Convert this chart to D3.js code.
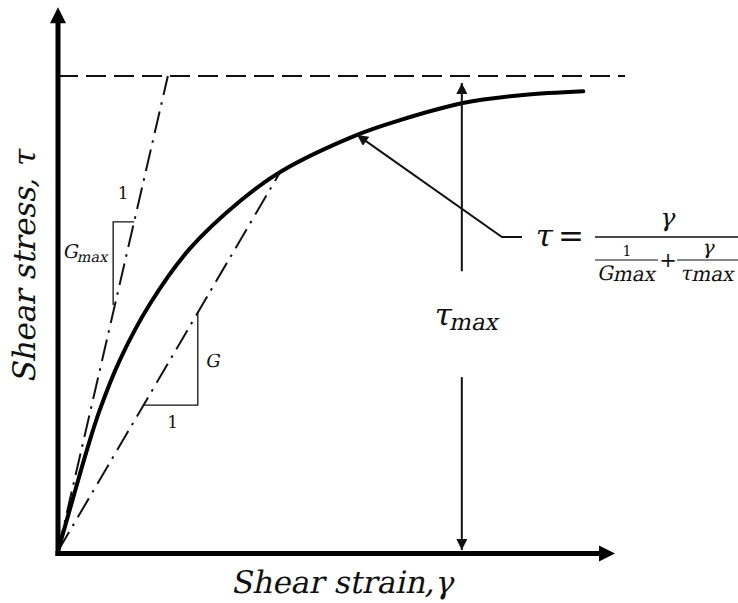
<!DOCTYPE html>
<html>
<head>
<meta charset="utf-8">
<script src="https://cdn.jsdelivr.net/npm/d3@7"></script>
<style>
  body { margin: 0; background: #fff; }
  svg { display: block; }
  text { font-family: "DejaVu Serif", "Liberation Serif", serif; fill: #111; }
</style>
</head>
<body>
<script>
// Backbone curve: shear strain (arbitrary units) vs shear stress normalised by τmax
const strain = [0, 0.26, 0.52, 0.75, 1.11, 1.65, 2.37, 3.27, 3.99, 5.37, 6.14, 7.27, 8.35, 9.43];
const stress = [0, 0.107, 0.213, 0.297, 0.402, 0.52, 0.637, 0.737, 0.798, 0.876, 0.907, 0.943, 0.960, 0.968];

// Asymptote and moduli
const tauMax = 1;
const gmaxSlope = 0.507;          // initial tangent modulus Gmax
const secantEnd = [3.99, 0.798];  // secant modulus G, drawn to this point on the curve

// Slope triangles: [strain at vertical leg, stress at top, stress at bottom]
const gmaxTri = [0.99, 0.693, 0.518];
const gTri = [2.51, 0.503, 0.307];

// τmax dimension arrow: strain position, gap in the shaft (stress from/to)
const dimStrain = 7.25;
const dimGap = [0.589, 0.366];

// Leader from formula to the curve: tip, knee and end of the shoulder
const leaderTip = [5.37, 0.876];
const leaderKnee = [7.97, 0.661];
const leaderEnd = [8.33, 0.661];

// Axis extents
const axisStrainMax = 10;
const axisStressMax = 1.145;
const asymptoteEnd = 10.18;

const W = 738, H = 603;
const x = d3.scaleLinear().domain([0, 10]).range([58, 615]);
const y = d3.scaleLinear().domain([0, 1]).range([551, 76]);

const svg = d3.select("body").append("svg").attr("width", W).attr("height", H);

// Slanted serif text for the math symbols and titles
const SLANT = -12;
function mtext(parent, px, py, size, extra = "") {
  return parent.append("text")
    .attr("transform", `translate(${px},${py}) ${extra} skewX(${SLANT})`)
    .attr("font-size", size);
}
function utext(parent, px, py, size) {
  return parent.append("text").attr("x", px).attr("y", py).attr("font-size", size);
}

const defs = svg.append("defs");
defs.append("marker")
  .attr("id", "arr").attr("viewBox", "0 0 10 10")
  .attr("refX", 10).attr("refY", 5)
  .attr("markerUnits", "userSpaceOnUse")
  .attr("markerWidth", 13).attr("markerHeight", 11)
  .attr("orient", "auto")
  .append("path").attr("d", "M0,0 L10,5 L0,10 Z").attr("fill", "#111");

const dashDot = "22,7,2.5,7.5";

// τmax asymptote
svg.append("line")
  .attr("x1", x(0)).attr("x2", x(asymptoteEnd))
  .attr("y1", y(tauMax)).attr("y2", y(tauMax))
  .attr("stroke", "#111").attr("stroke-width", 2.2)
  .attr("stroke-dasharray", "20,8");

// Gmax tangent line (from origin up to the asymptote)
svg.append("line")
  .attr("x1", x(0)).attr("y1", y(0))
  .attr("x2", x(tauMax / gmaxSlope)).attr("y2", y(tauMax))
  .attr("stroke", "#111").attr("stroke-width", 2)
  .attr("stroke-dasharray", dashDot);

// G secant line
svg.append("line")
  .attr("x1", x(0)).attr("y1", y(0))
  .attr("x2", x(secantEnd[0])).attr("y2", y(secantEnd[1]))
  .attr("stroke", "#111").attr("stroke-width", 2)
  .attr("stroke-dasharray", dashDot);

// Stress–strain curve
const pts = strain.map((s, i) => [s, stress[i]]);
svg.append("path")
  .datum(pts)
  .attr("d", d3.line().x(d => x(d[0])).y(d => y(d[1])).curve(d3.curveCatmullRom.alpha(0.5)))
  .attr("fill", "none").attr("stroke", "#000").attr("stroke-width", 4)
  .attr("stroke-linecap", "round");

// Slope triangle for Gmax: horizontal leg to the tangent line, vertical leg downward
svg.append("path")
  .attr("d", `M${x(gmaxTri[1] / gmaxSlope)},${y(gmaxTri[1])} L${x(gmaxTri[0])},${y(gmaxTri[1])} L${x(gmaxTri[0])},${y(gmaxTri[2])}`)
  .attr("fill", "none").attr("stroke", "#111").attr("stroke-width", 1.3);

// Slope triangle for G: vertical leg from the secant line, horizontal leg back to it
const gSlope = secantEnd[1] / secantEnd[0];
svg.append("path")
  .attr("d", `M${x(gTri[0])},${y(gTri[1])} L${x(gTri[0])},${y(gTri[2])} L${x(gTri[2] / gSlope)},${y(gTri[2])}`)
  .attr("fill", "none").attr("stroke", "#111").attr("stroke-width", 1.3);

// Triangle labels
utext(svg, x(1.17), y(0.741), 17).attr("text-anchor", "middle").text("1");
const gm = mtext(svg, x(0.08), y(0.617), 19);
gm.append("tspan").text("G");
gm.append("tspan").attr("font-size", 14.5).attr("dy", 4).text("max");

mtext(svg, x(2.64), y(0.388), 18).text("G");
utext(svg, x(2.06), y(0.26), 17).attr("text-anchor", "middle").text("1");

// τmax dimension arrow (shaft broken around the label)
svg.append("line")
  .attr("x1", x(dimStrain)).attr("x2", x(dimStrain))
  .attr("y1", y(dimGap[0])).attr("y2", y(tauMax) + 7)
  .attr("stroke", "#111").attr("stroke-width", 2)
  .attr("marker-end", "url(#arr)");
svg.append("line")
  .attr("x1", x(dimStrain)).attr("x2", x(dimStrain))
  .attr("y1", y(dimGap[1])).attr("y2", y(0) - 1)
  .attr("stroke", "#111").attr("stroke-width", 2)
  .attr("marker-end", "url(#arr)");
const tl = mtext(svg, x(dimStrain) + 4, y(0.476), 31).attr("text-anchor", "middle");
tl.append("tspan").text("τ");
tl.append("tspan").attr("font-size", 23).attr("dy", 5).text("max");

// Leader from the formula to the curve
svg.append("path")
  .attr("d", `M${x(leaderEnd[0])},${y(leaderEnd[1])} L${x(leaderKnee[0])},${y(leaderKnee[1])} L${x(leaderTip[0])},${y(leaderTip[1])}`)
  .attr("fill", "none").attr("stroke", "#111").attr("stroke-width", 2)
  .attr("marker-end", "url(#arr)");

// Hyperbolic model formula
const fx = x(leaderEnd[0]), fy = y(leaderEnd[1]);
const f = svg.append("g").attr("transform", `translate(${fx},${fy})`);
mtext(f, 12, 9, 31).text("τ");
utext(f, 36, 10, 31).text("=");
f.append("line").attr("x1", 73).attr("x2", 218).attr("y1", 0).attr("y2", 0)
  .attr("stroke", "#111").attr("stroke-width", 1.6);
mtext(f, 145, -11, 25).attr("text-anchor", "middle").text("γ");
f.append("line").attr("x1", 73).attr("x2", 136).attr("y1", 23).attr("y2", 23)
  .attr("stroke", "#111").attr("stroke-width", 1.2);
utext(f, 105, 19, 14).attr("text-anchor", "middle").attr("fill", "#000").text("1");
const gd = mtext(f, 104, 43, 20).attr("text-anchor", "middle");
gd.append("tspan").text("G");
gd.append("tspan").attr("font-size", 20).attr("dy", 1).text("max");
utext(f, 146, 30, 21).attr("text-anchor", "middle").text("+");
f.append("line").attr("x1", 155).attr("x2", 218).attr("y1", 23).attr("y2", 23)
  .attr("stroke", "#111").attr("stroke-width", 1.2);
mtext(f, 186, 17, 20).attr("text-anchor", "middle").text("γ");
const td = mtext(f, 185, 43, 20).attr("text-anchor", "middle");
td.append("tspan").text("τ");
td.append("tspan").attr("font-size", 20).attr("dy", 1).text("max");

// Axes with arrowheads
svg.append("line")
  .attr("x1", x(0)).attr("x2", x(0)).attr("y1", y(0) + 5).attr("y2", y(axisStressMax) + 14)
  .attr("stroke", "#000").attr("stroke-width", 5);
svg.append("line")
  .attr("x1", x(0) - 2.5).attr("x2", x(axisStrainMax) - 14).attr("y1", y(0) + 2.5).attr("y2", y(0) + 2.5)
  .attr("stroke", "#000").attr("stroke-width", 5);
const yt = [x(0), y(axisStressMax)];
svg.append("path").attr("d", `M${yt[0]},${yt[1]} L${yt[0] + 8},${yt[1] + 16} L${yt[0] - 8},${yt[1] + 16} Z`).attr("fill", "#000");
const xt = [x(axisStrainMax), y(0) + 2.5];
svg.append("path").attr("d", `M${xt[0]},${xt[1]} L${xt[0] - 16},${xt[1] - 8} L${xt[0] - 16},${xt[1] + 8} Z`).attr("fill", "#000");

// Axis titles
mtext(svg, 342, 593, 31).attr("text-anchor", "middle").text("Shear strain,γ");
mtext(svg, 35, 267, 31, "rotate(-90)").attr("text-anchor", "middle").text("Shear stress, τ");
</script>
</body>
</html>
